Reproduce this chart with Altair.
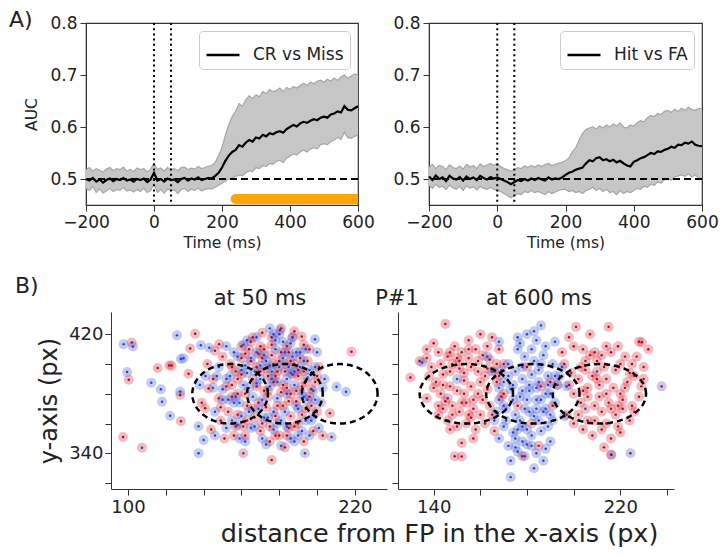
import altair as alt
import pandas as pd

FONT = "DejaVu Sans"
TXT = "#222222"

# ---------------- Panel A data (AUC time courses) ----------------
time_ms = list(range(-200, 601, 10))

cr_mean = [0.500,0.497,0.502,0.495,0.499,0.493,0.498,0.501,0.496,0.500,0.498,0.502,0.497,0.499,0.495,0.500,0.498,0.501,0.494,0.499,
           0.512,0.497,0.500,0.495,0.501,0.498,0.499,0.494,0.500,0.502,0.497,0.501,0.499,0.503,0.498,0.500,0.502,0.501,0.506,0.512,
           0.522,0.535,0.545,0.552,0.556,0.565,0.562,0.570,0.575,0.572,0.580,0.578,0.585,0.582,0.588,0.586,0.590,0.592,0.589,0.596,
           0.600,0.604,0.601,0.607,0.610,0.608,0.612,0.615,0.613,0.618,0.620,0.618,0.624,0.626,0.630,0.628,0.640,0.633,0.632,0.636,0.640]
cr_upper = [0.518,0.522,0.515,0.520,0.517,0.513,0.519,0.522,0.516,0.520,0.518,0.523,0.515,0.519,0.514,0.521,0.518,0.520,0.514,0.519,
            0.530,0.518,0.521,0.515,0.522,0.518,0.520,0.516,0.522,0.523,0.518,0.521,0.519,0.524,0.520,0.522,0.525,0.526,0.532,0.545,
            0.560,0.585,0.605,0.620,0.630,0.645,0.640,0.652,0.660,0.655,0.662,0.658,0.668,0.664,0.672,0.668,0.670,0.675,0.668,0.676,
            0.672,0.678,0.675,0.680,0.684,0.680,0.686,0.683,0.688,0.690,0.686,0.692,0.688,0.694,0.690,0.696,0.700,0.694,0.698,0.702,0.700]
cr_lower = [0.482,0.478,0.486,0.474,0.481,0.473,0.477,0.482,0.476,0.480,0.478,0.484,0.477,0.479,0.475,0.480,0.476,0.482,0.474,0.478,
            0.490,0.474,0.480,0.473,0.481,0.477,0.479,0.472,0.480,0.482,0.476,0.481,0.478,0.483,0.477,0.480,0.482,0.481,0.484,0.488,
            0.492,0.496,0.500,0.502,0.505,0.508,0.506,0.512,0.516,0.514,0.522,0.520,0.526,0.524,0.530,0.528,0.534,0.536,0.532,0.540,
            0.544,0.548,0.546,0.552,0.556,0.552,0.558,0.560,0.558,0.566,0.568,0.566,0.572,0.575,0.580,0.576,0.590,0.580,0.578,0.582,0.585]

hit_mean = [0.505,0.498,0.507,0.500,0.503,0.496,0.506,0.501,0.499,0.504,0.497,0.505,0.500,0.503,0.498,0.506,0.502,0.499,0.504,0.501,
            0.503,0.500,0.497,0.494,0.490,0.494,0.498,0.496,0.500,0.497,0.501,0.498,0.502,0.499,0.497,0.503,0.499,0.501,0.500,0.503,
            0.508,0.512,0.514,0.518,0.520,0.522,0.530,0.536,0.534,0.540,0.542,0.536,0.538,0.534,0.537,0.532,0.535,0.530,0.526,0.524,
            0.533,0.536,0.540,0.542,0.546,0.550,0.548,0.553,0.552,0.556,0.558,0.562,0.560,0.566,0.565,0.570,0.568,0.572,0.566,0.564,0.563]
hit_upper = [0.522,0.528,0.520,0.526,0.524,0.518,0.527,0.522,0.520,0.525,0.519,0.528,0.523,0.526,0.520,0.529,0.524,0.527,0.530,0.526,
             0.530,0.524,0.520,0.518,0.515,0.518,0.522,0.520,0.525,0.522,0.526,0.523,0.527,0.524,0.528,0.530,0.526,0.528,0.530,0.532,
             0.535,0.540,0.552,0.560,0.575,0.588,0.595,0.598,0.600,0.596,0.602,0.598,0.604,0.600,0.606,0.602,0.608,0.600,0.598,0.604,
             0.602,0.608,0.612,0.610,0.618,0.622,0.620,0.626,0.624,0.630,0.632,0.628,0.634,0.630,0.636,0.632,0.638,0.634,0.632,0.636,0.635]
hit_lower = [0.488,0.482,0.490,0.484,0.486,0.480,0.488,0.483,0.480,0.486,0.478,0.487,0.482,0.485,0.479,0.486,0.482,0.480,0.484,0.480,
             0.478,0.476,0.472,0.468,0.464,0.468,0.472,0.470,0.476,0.474,0.478,0.474,0.476,0.473,0.470,0.476,0.472,0.475,0.478,0.480,
             0.480,0.476,0.478,0.474,0.476,0.472,0.478,0.480,0.484,0.478,0.482,0.476,0.480,0.474,0.476,0.470,0.478,0.472,0.476,0.474,
             0.478,0.482,0.480,0.486,0.484,0.490,0.488,0.494,0.492,0.498,0.500,0.498,0.504,0.506,0.508,0.505,0.510,0.504,0.508,0.502,0.500]

event_times = [0, 50]
chance_level = [0.5]
sig_start = [240]
sig_end = [640]
sig_level = [0.4615]

# ---------------- Panel B data (gaze positions) ----------------
rr50_x = [150,155,160,165,170,172,176,180,183,185,188,190,192,186,182,178,174,168,163,158,153,148,145,142,157,162,170,175,184,190,194,196,199,201,203,198,166,171,187,193,160,177,181,189,167,151,144,139,146,186,173,179,155,195,200,
          168,171,174,177,181,184,187,191,194,197,179,172,166,162,158,154,160,164,170,176,183,189,193,185,175,180,188,163,156,149,
          165,169,173,178,182,186,190,184,176,162,157,152,149,158,166,171,178,185,192,197,200,196,188,181,174,169,161,155,193,183,
          100.4,97.4,128,115.7,121.8,123,135.5,132.9,132,127.6,140.8,142.6,148.2,218.2,206.8,191.9,176]
rr50_y = [405,398,412,402,395,410,418,402,395,408,400,392,385,380,372,365,378,385,372,380,368,377,390,400,358,352,355,348,352,360,370,378,388,398,352,355,418,421,418,413,393,388,381,375,364,350,356,374,409,365,371,395,386,402,368,
          398,404,392,400,408,384,393,404,388,372,372,382,390,380,390,400,404,410,412,406,400,382,395,375,358,352,358,362,352,362,
          415,407,397,392,386,402,396,412,413,407,395,385,371,366,370,360,352,357,366,383,392,410,422,424,382,374,358,378,348,344,
          389.5,351,361.5,397.3,399,399,420.4,410.5,393.5,379.2,370.3,383.6,413.4,408.3,367,418.5,335.5]
bb50_x = [148,152,158,163,168,173,178,182,187,191,195,198,193,188,184,179,175,170,166,161,156,150,146,141,155,160,165,171,177,181,188,192,197,202,204,200,185,176,169,159,146,138,143,162,183,190,174,180,196,201,
          167,172,175,179,182,186,189,192,195,199,181,177,171,164,160,156,152,168,178,186,194,198,190,184,173,167,162,157,153,147,
          165,170,176,180,184,188,191,183,177,161,154,150,145,159,164,172,179,186,194,199,203,193,187,175,168,163,158,152,196,189,
          97.7,102.6,99.5,112.3,117.4,118,122.3,125.9,138.5,128,129.3,127.6,137.3,137.3,140,210.3,215.3,198.9]
bb50_y = [398,412,405,416,408,402,410,415,405,398,391,382,378,386,390,377,385,390,378,386,374,383,368,392,362,365,357,350,356,345,348,355,362,374,390,408,398,395,370,350,352,386,411,399,368,370,364,420,396,357,
          395,406,399,388,404,394,408,380,376,398,362,368,376,384,396,408,390,418,416,414,410,366,352,358,346,358,348,378,376,392,
          404,399,390,398,380,395,408,408,420,413,392,376,384,374,368,364,360,350,362,376,384,402,418,424,387,394,359,357,352,372,
          413.4,411.8,394.6,387.5,383,374.7,365.3,419.3,412.7,403.4,403.9,381.4,358.2,340,349,384.7,381.4,416.7]
rb50_x = [102, 107.4, 161]
rb50_y = [414.5, 343.8, 340]
br50_x = [207.7, 193.6, 180.4]
br50_y = [351, 340, 422.9]

rr600_x = [145,140,137,142,146,149,152,155,158,161,164,148,151,153,156,159,162,166,144,141,137,147,150,153,156,159,163,167,145,148,151,154,157,160,164,169,142,146,150,154,158,162,166,152,149,130,134,165,168,170,160,155,139,143,
           198,201,204,207,210,213,216,219,222,225,228,196,199,202,205,208,211,214,217,220,223,226,229,200,203,206,209,212,215,218,221,224,197,200,204,208,212,216,220,193,191,195,207,216,228,230,232,213,
           180,186,176,190,182,170,185,178,
           150,153,147,144,157,160,138,142,148,156,206,210,214,218,222,209,203,219,225,212,152,215,229.2,
           143,147,151,155,159,163,167,140,144,152,155,161,165,147,157,137,163,168,
           200,205,209,214,220,224,227,198,204,211,216,221,226,230,206,214,202,219]
rr600_y = [427,414,410,408,405,412,408,404,410,406,403,400,397,394,398,395,392,395,393,388,377,385,382,380,385,380,383,388,375,372,368,374,370,366,372,378,366,362,358,360,356,360,355,347,338,391,402,418,410,400,420,416,398,380,
           418,425,410,406,402,398,408,412,405,400,415,400,394,390,396,392,386,390,384,380,388,392,385,380,374,378,372,368,374,366,370,362,366,360,356,352,356,350,354,386,372,408,420,339,378,398,410,344,
           398,385,372,388,360,380,345,338,
           404,389,395,386,376,388,392,372,366,364,384,390,380,396,384,362,398,372,372,406,337.8,425,414.7,
           400,408,402,410,402,397,400,384,370,374,366,376,366,356,350,404,412,392,
           412,402,408,412,400,394,405,386,382,378,370,376,368,390,362,360,366,358]
bb600_x = [186,180,184,188,176,179,183,187,191,172,175,178,182,185,189,193,170,173,177,181,184,188,192,168,171,175,179,183,187,191,166,170,174,178,182,186,190,168,172,176,180,184,188,173,173,195,197,165,163,168,192,196,
           178,181,185,174,177,184,189,171,180,186,175,182,169,190,194,176,183,179,187,167,
           177,182,186,189,184,178,174,172,181,185,176,188,170,192,180,178,183,175,190,168,
           135,150]
bb600_y = [426,420,416,412,410,405,402,406,400,400,395,390,393,388,392,386,388,383,378,382,376,380,374,376,370,366,370,365,368,362,362,358,354,358,352,355,348,350,345,341,346,340,343,335,324,398,385,395,405,415,415,365,
           398,386,396,386,362,370,358,362,376,376,350,345,396,380,392,418,422,338,335,368,
           414,410,400,386,384,382,376,392,368,362,356,370,372,392,356,348,330,344,366,384,
           401,390]
rb600_x = [146, 210, 205]
rb600_y = [377, 395, 370]
br600_x = [237.7, 224.3, 216.2]
br600_y = [385, 340, 339]

ellipse50_cx = [154, 183, 212]
ellipse600_cx = [154, 182.5, 211]
ellipse_cy = 380
ellipse_r = 20

TOP_H = 182
BOT_H = 177


def text_layer(txt, x, y, size, align="center"):
    return alt.Chart(pd.DataFrame({"s": [txt]})).mark_text(
        align=align, baseline="alphabetic", fontSize=size, font=FONT, color=TXT).encode(
        x=alt.value(x), y=alt.value(y), text="s:N")


# ---------------- Panel A charts ----------------
def auc_panel(mean, upper, lower, label, width, show_sig, show_ytitle, tag):
    df = pd.DataFrame({"t": time_ms, "auc": mean, "up": upper, "lo": lower, "series": label})
    xs = alt.Scale(domain=[-200, 600], nice=False, zero=False)
    ys = alt.Scale(domain=[0.45, 0.8], nice=False, zero=False)
    xax = alt.Axis(values=[-200, 0, 200, 400, 600], title="Time (ms)", grid=False,
                   labelFontSize=17, titleFontSize=15.5, titleFontWeight="normal",
                   tickSize=6, labelPadding=3, titlePadding=5, labelFlush=False,
                   domainColor="#333", tickColor="#333", labelColor=TXT, titleColor=TXT,
                   labelFont=FONT, titleFont=FONT)
    yax = alt.Axis(values=[0.5, 0.6, 0.7, 0.8], format=".1f", title="AUC" if show_ytitle else None,
                   grid=False, labelFontSize=17, titleFontSize=15.5, titleFontWeight="normal",
                   tickSize=6, labelPadding=3, titlePadding=10, labelFlush=False,
                   domainColor="#333", tickColor="#333", labelColor=TXT, titleColor=TXT,
                   labelFont=FONT, titleFont=FONT)

    def X(f):
        return alt.X(f, scale=xs, axis=xax)

    def Y(f):
        return alt.Y(f, scale=ys, axis=yax)

    base = alt.Chart(df)
    band = base.mark_area(color="#c6c6c6", opacity=1).encode(x=X("t:Q"), y=Y("lo:Q"), y2="up:Q")
    up_l = base.mark_line(color="#a6a6a6", strokeWidth=1.2).encode(x=X("t:Q"), y=Y("up:Q"))
    lo_l = base.mark_line(color="#a6a6a6", strokeWidth=1.2).encode(x=X("t:Q"), y=Y("lo:Q"))
    chance = alt.Chart(pd.DataFrame({"auc": chance_level})).mark_rule(
        color="black", strokeWidth=2, strokeDash=[7, 4]).encode(y=Y("auc:Q"))
    line = base.mark_line(strokeWidth=2.2).encode(
        x=X("t:Q"), y=Y("auc:Q"),
        color=alt.Color("series:N", scale=alt.Scale(range=["black"]),
                        legend=alt.Legend(title=None, orient="top-right", offset=8,
                                          symbolType="stroke", symbolStrokeWidth=2.5,
                                          symbolSize=1089, labelFontSize=17, labelFont=FONT,
                                          labelColor=TXT, labelOffset=12, strokeColor="#cccccc",
                                          fillColor="white", cornerRadius=4, padding=6)))
    events = alt.Chart(pd.DataFrame({"t": event_times})).mark_rule(
        color="black", strokeWidth=2, strokeDash=[2, 3.2]).encode(x=X("t:Q"))
    layers = [band, up_l, lo_l, chance, line, events]
    if show_sig:
        sig = alt.Chart(pd.DataFrame({"t": sig_start, "t2": sig_end, "auc": sig_level})).mark_rule(
            color="#ffa500", strokeWidth=10, strokeCap="round", clip=True).encode(
            x=X("t:Q"), x2="t2:Q", y=Y("auc:Q"))
        layers.append(sig)
    if tag:
        layers.append(text_layer(tag, -77, 4, 22, align="left"))
    return alt.layer(*layers).properties(width=width, height=TOP_H,
                                         view=alt.ViewBackground(stroke="#333", strokeWidth=1.2))


top_left = auc_panel(cr_mean, cr_upper, cr_lower, "CR vs Miss", 272, True, True, "A)")
top_right = auc_panel(hit_mean, hit_upper, hit_lower, "Hit vs FA", 273, False, False, None)
top_row = alt.hconcat(top_left, top_right, spacing=71, bounds="flush").resolve_scale(
    color="independent").resolve_legend(color="independent")


# ---------------- Panel B charts ----------------
def gaze_df(rrx, rry, bbx, bby, rbx, rby, brx, bry):
    parts = [
        pd.DataFrame({"x": rrx, "y": rry, "halo": "r", "dot": "r"}),
        pd.DataFrame({"x": bbx, "y": bby, "halo": "b", "dot": "b"}),
        pd.DataFrame({"x": rbx, "y": rby, "halo": "r", "dot": "b"}),
        pd.DataFrame({"x": brx, "y": bry, "halo": "b", "dot": "r"}),
    ]
    return pd.concat(parts, ignore_index=True)


def gaze_panel(df, cx_list, xdom, xticks, xlabels, show_ylabels, extra):
    xs = alt.Scale(domain=xdom, nice=False, zero=False)
    ys = alt.Scale(domain=[316, 435], nice=False, zero=False)
    lab_x = " : ".join(f"datum.value == {v} ? '{v}'" for v in xlabels) + " : ''"
    xax = alt.Axis(values=xticks, labelExpr=lab_x, title=None,
                   grid=False, labelFontSize=18, tickSize=6, labelPadding=3, labelFlush=False,
                   labelOverlap=False, domainColor="#333", tickColor="#333", labelColor=TXT,
                   labelFont=FONT)
    if show_ylabels:
        yax = alt.Axis(values=[320, 340, 360, 380, 400, 420], labels=True,
                       labelExpr="datum.value == 340 ? '340' : datum.value == 420 ? '420' : ''",
                       title="y-axis (px)", titleFontSize=24, titleFontWeight="normal",
                       titleFont=FONT, titleColor=TXT, titlePadding=7,
                       grid=False, labelFontSize=18, tickSize=6, labelPadding=2, labelFlush=False,
                       labelOverlap=False, domainColor="#333", tickColor="#333", labelColor=TXT,
                       labelFont=FONT)
    else:
        yax = alt.Axis(values=[320, 340, 360, 380, 400, 420], labels=False, title=None,
                       grid=False, tickSize=6, domainColor="#333", tickColor="#333")

    def X(f):
        return alt.X(f, scale=xs, axis=xax)

    def Y(f):
        return alt.Y(f, scale=ys, axis=yax)

    cscale = alt.Scale(domain=["r", "b"], range=["#d8303c", "#4660d8"])
    dscale = alt.Scale(domain=["r", "b"], range=["#b8001c", "#2c3cc8"])
    base = alt.Chart(df)
    halos = base.mark_circle(size=100, opacity=0.33).encode(
        x=X("x:Q"), y=Y("y:Q"), color=alt.Color("halo:N", scale=cscale, legend=None))
    dots = base.mark_circle(size=6, opacity=1).encode(
        x=X("x:Q"), y=Y("y:Q"), color=alt.Color("dot:N", scale=dscale, legend=None))
    ell = alt.Chart(pd.DataFrame({"cx": cx_list})).transform_calculate(
        ang="sequence(0, 6.34, 0.04)").transform_flatten(["ang"]).transform_calculate(
        x=f"datum.cx + {ellipse_r} * cos(datum.ang)",
        y=f"{ellipse_cy} + {ellipse_r} * sin(datum.ang)").mark_line(
        color="black", strokeWidth=2.5, strokeDash=[6, 4]).encode(
        x=X("x:Q"), y=Y("y:Q"), detail="cx:N", order="ang:Q")
    layers = [halos, dots, ell] + extra
    return alt.layer(*layers).resolve_scale(color="independent").properties(
        width=276, height=BOT_H, view=alt.ViewBackground(stroke=None))


df50 = gaze_df(rr50_x, rr50_y, bb50_x, bb50_y, rb50_x, rb50_y, br50_x, br50_y)
df600 = gaze_df(rr600_x, rr600_y, bb600_x, bb600_y, rb600_x, rb600_y, br600_x, br600_y)

bottom_left = gaze_panel(df50, ellipse50_cx, [91, 237], [100, 120, 140, 160, 180, 200, 220],
                         [100, 220], True,
                         [text_layer("B)", -96, -19, 22, align="left"),
                          text_layer("at 50 ms", 149, -7, 21),
                          text_layer("P#1", 286, -7, 21)])
bottom_right = gaze_panel(df600, ellipse600_cx, [124.7, 243], [140, 160, 180, 200, 220, 240],
                          [140, 220], False,
                          [text_layer("at 600 ms", 141, -7, 21)])

spacer = alt.Chart(pd.DataFrame({"v": [0]})).mark_point(opacity=0).encode(
    x=alt.X("v:Q", axis=None), y=alt.Y("v:Q", axis=None)).properties(
    width=14, height=BOT_H, view=alt.ViewBackground(stroke=None))

bottom_row = alt.hconcat(spacer, bottom_left, bottom_right, spacing=11, bounds="flush",
                         title=alt.TitleParams("distance from FP in the x-axis (px)", orient="bottom",
                                               anchor="middle", fontSize=25.5, fontWeight="normal",
                                               font=FONT, color=TXT, offset=6, dx=95))

chart = alt.vconcat(top_row, bottom_row, spacing=23).properties(
    padding={"left": 0, "top": 0, "right": 0, "bottom": 0},
    background="white").configure_view(stroke=None).configure(font=FONT)

chart.save("out.html", embed_options={"renderer": "svg", "actions": False})
